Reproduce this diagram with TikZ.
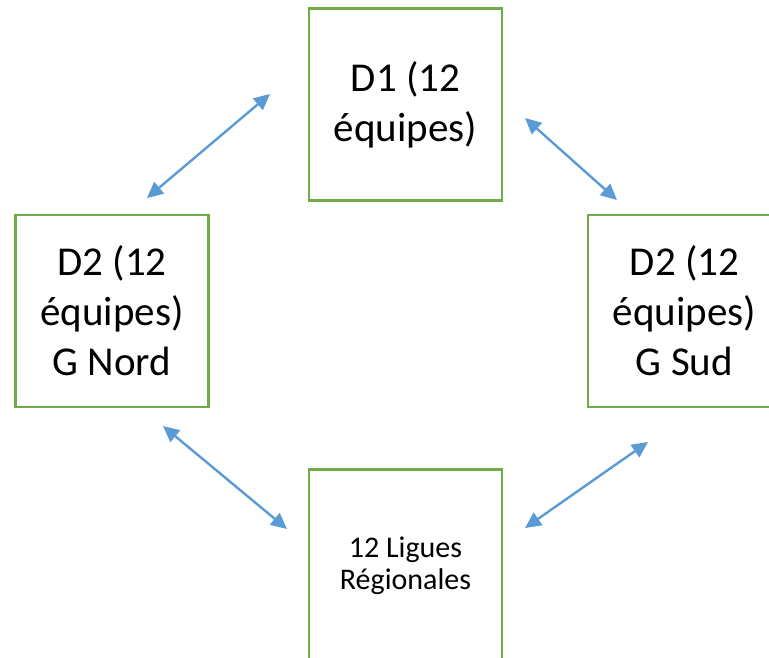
\documentclass[tikz,border=0pt]{standalone}
\usepackage{fontspec}
\setmainfont{Carlito}
\usetikzlibrary{arrows.meta,positioning}
\definecolor{boxgreen}{RGB}{112,173,71}
\definecolor{linkblue}{RGB}{91,155,213}
\tikzset{font={\fontsize{41pt}{50pt}\selectfont}}

\begin{document}
\begin{tikzpicture}[x=1pt,y=-1pt,
division/.style={draw=boxgreen,line width=2.5pt,minimum width=193pt,minimum height=192pt,inner sep=0pt,align=center},
link/.style={{Triangle[length=16pt,width=15pt]}-{Triangle[length=16pt,width=15pt]},draw=linkblue,line width=2.4pt}
]
\useasboundingbox (0,0) rectangle (769,658);
\clip (0,0) rectangle (769,658);

\node[division] (d1) at (405.5,104.5) {D1 (12\\équipes)};
\node[division] (nord) at (112,311) {D2 (12\\équipes)\\G Nord};
\node[division] (sud) at (684.5,311) {D2 (12\\équipes)\\G Sud};
\node[division,font={\fontsize{30pt}{32pt}\selectfont}] (ligues) at (405.5,565.5) {12 Ligues\\Régionales};

\coordinate (nw a) at (147,198);
\coordinate (nw b) at (270,94);
\coordinate (ne a) at (525,118);
\coordinate (ne b) at (617,200);
\coordinate (sw a) at (163,426);
\coordinate (sw b) at (287,529);
\coordinate (se a) at (525,528);
\coordinate (se b) at (648,442);

\draw[link] (nw a) -- (nw b);
\draw[link] (ne a) -- (ne b);
\draw[link] (sw a) -- (sw b);
\draw[link] (se a) -- (se b);

\end{tikzpicture}
\end{document}
